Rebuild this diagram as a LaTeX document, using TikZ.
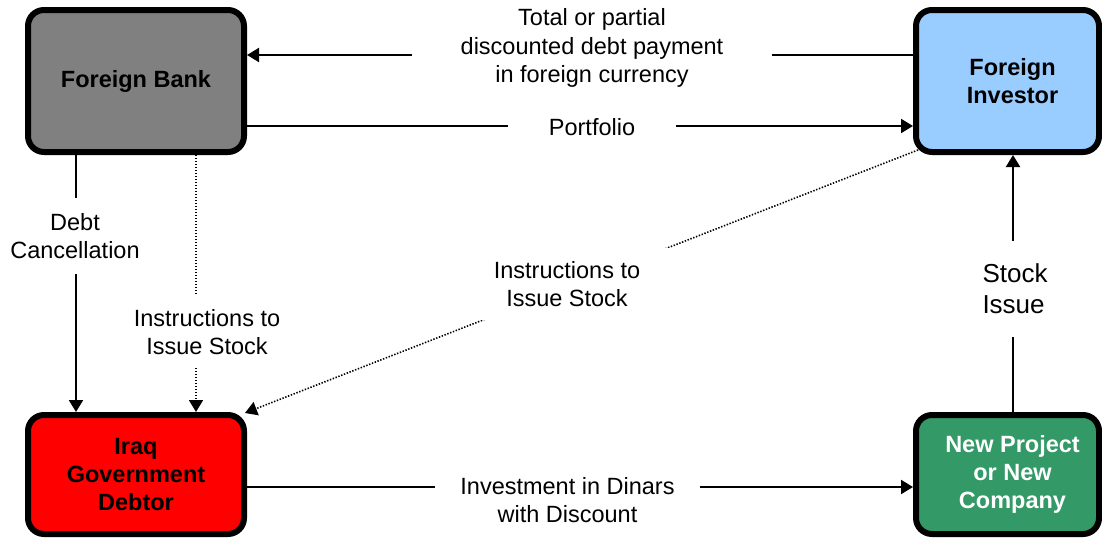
\documentclass[tikz,border=0pt]{standalone}
\usepackage{fontspec}
\setmainfont{Liberation Sans}
\usetikzlibrary{arrows.meta}
\definecolor{bankgray}{HTML}{808080}
\definecolor{invblue}{HTML}{99CCFF}
\definecolor{iraqred}{HTML}{FF0000}
\definecolor{projgreen}{HTML}{339966}
\begin{document}
\begin{tikzpicture}[x=1pt,y=-1pt,
  box/.style={draw=black, line width=6pt, rounded corners=16pt, align=center,
    font=\fontsize{23.5}{28}\selectfont\bfseries, minimum width=216pt, inner sep=0pt},
  conn/.style={line width=2pt, -{Triangle[length=12pt,width=14pt]}},
  dotconn/.style={conn, line width=1.6pt, dash pattern=on 1.4pt off 1.6pt},
  lbl/.style={fill=white, align=center, inner sep=0pt,
    font=\fontsize{23.5}{27.5}\selectfont}]
\useasboundingbox (0,0) rectangle (1102,538);

% boxes
\node[box, fill=bankgray, minimum height=142pt] (bank) at (136,81) {Foreign Bank};
\node[box, fill=invblue, minimum width=183pt, minimum height=142pt] (inv) at (1007.5,81)
  {\hspace*{10pt}Foreign\\\hspace*{10pt}Investor};
\node[box, fill=iraqred, minimum height=119pt] (iraq) at (136,474.5) {Iraq\\Government\\Debtor};
\node[box, fill=projgreen, text=white, minimum width=183pt, minimum height=119pt] (np) at (1007.5,474.5)
  {\hspace*{10pt}New Project\\\hspace*{10pt}or New\\\hspace*{10pt}Company};

% helper coordinates
\coordinate (ytop) at (0,55);
\coordinate (yport) at (0,126);
\coordinate (yinvest) at (0,487);
\coordinate (xdebt) at (76,0);
\coordinate (xinst) at (196,0);
\coordinate (xstock) at (1013,0);

% connectors
\draw[conn] (inv.west |- ytop) -- (bank.east |- ytop);
\draw[conn] (bank.east |- yport) -- (inv.west |- yport);
\draw[conn] (bank.south -| xdebt) -- (iraq.north -| xdebt);
\draw[dotconn] (bank.south -| xinst) -- (iraq.north -| xinst);
\draw[dotconn] ([shift={(5pt,5pt)}]inv.south west) -- ([shift={(-2pt,-1pt)}]iraq.north east);
\draw[conn] (iraq.east |- yinvest) -- (np.west |- yinvest);
\draw[conn] (np.north -| xstock) -- (inv.south -| xstock);

% labels
\node[lbl, minimum width=360pt, minimum height=84pt, font=\fontsize{23.5}{28.5}\selectfont] (ltop) at (592,48)
  {Total or partial\\discounted debt payment\\in foreign currency};
\node[lbl, minimum width=168pt, minimum height=30pt] (lport) at (592,127) {Portfolio};
\node[lbl, minimum height=76pt] (ldebt) at (75,236) {Debt\\Cancellation};
\node[lbl, minimum height=72pt] (linst) at (207,332) {Instructions to\\Issue Stock};
\node[lbl, minimum width=210pt, minimum height=72pt] (ldiag) at (567,284) {Instructions to\\Issue Stock};
\node[lbl, minimum width=265pt, minimum height=60pt] (linvest) at (567.5,500) {Investment in Dinars\\with Discount};
\node[lbl, align=left, minimum height=96pt, font=\fontsize{26}{31}\selectfont] (lstock) at (1015,289) {Stock\\Issue};
\end{tikzpicture}
\end{document}
